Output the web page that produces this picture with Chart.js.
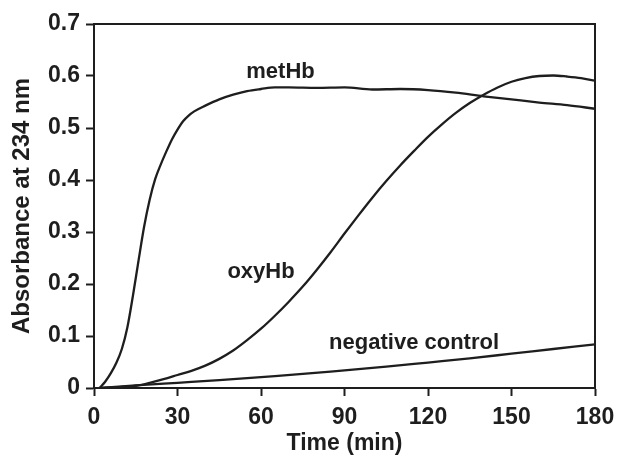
<!DOCTYPE html>
<html>
<head>
<meta charset="utf-8">
<title>Absorbance at 234 nm</title>
<script src="https://cdn.jsdelivr.net/npm/chart.js@4.4.0/dist/chart.umd.min.js"></script>
<style>
    body { margin: 0; background: #fff; }
    #wrap { width: 618px; height: 455px; }
</style>
</head>
<body>
<div id="wrap"><canvas id="absChart" width="618" height="455"></canvas></div>
<script>
// Data
const metHbTime = [2, 4, 6, 8, 10, 12, 14, 16, 18, 20, 22, 24, 26, 28, 30, 32, 34, 36, 40, 45, 50, 55, 60, 65, 70, 80, 90, 100, 110, 120, 130, 140, 150, 160, 170, 180];
const metHbValues = [0, 0.012, 0.028, 0.048, 0.075, 0.117, 0.178, 0.245, 0.31, 0.362, 0.402, 0.43, 0.455, 0.478, 0.497, 0.513, 0.524, 0.532, 0.543, 0.555, 0.564, 0.571, 0.575, 0.578, 0.578, 0.577, 0.578, 0.574, 0.575, 0.573, 0.568, 0.561, 0.555, 0.549, 0.544, 0.537];

const oxyHbTime = [2, 10, 16, 20, 25, 30, 35, 40, 45, 50, 55, 60, 65, 70, 75, 80, 85, 90, 95, 100, 105, 110, 115, 120, 125, 130, 135, 140, 145, 150, 155, 160, 165, 170, 175, 180];
const oxyHbValues = [0, 0.002, 0.005, 0.01, 0.017, 0.025, 0.033, 0.043, 0.056, 0.072, 0.092, 0.114, 0.139, 0.166, 0.195, 0.227, 0.261, 0.297, 0.332, 0.366, 0.398, 0.428, 0.456, 0.483, 0.507, 0.529, 0.548, 0.564, 0.578, 0.589, 0.596, 0.6, 0.601, 0.599, 0.596, 0.591];

const controlTime = [2, 15, 30, 45, 60, 75, 90, 105, 120, 135, 150, 165, 180];
const controlValues = [0, 0.005, 0.01, 0.015, 0.021, 0.027, 0.034, 0.041, 0.049, 0.057, 0.066, 0.075, 0.084];

// Curve labels, placed in data units
const curveLabels = ['metHb', 'oxyHb', 'negative control'];
const curveLabelTime = [67, 60, 115];
const curveLabelValue = [0.608, 0.224, 0.087];

const FONT = "'Liberation Sans', Arial, Helvetica, sans-serif";
const INK = '#1e1e1e';

function toPoints(times, values) {
    return times.map((t, i) => ({ x: t, y: values[i] }));
}

function lineSet(label, times, values) {
    return {
        label: label,
        data: toPoints(times, values),
        borderColor: INK,
        borderWidth: 2.3,
        pointRadius: 0,
        fill: false,
        cubicInterpolationMode: 'monotone'
    };
}

// Box around plot area
const framePlugin = {
    id: 'frame',
    afterDraw(chart) {
        const { ctx, chartArea } = chart;
        ctx.save();
        ctx.strokeStyle = INK;
        ctx.lineWidth = 2;
        ctx.strokeRect(chartArea.left, chartArea.top, chartArea.right - chartArea.left, chartArea.bottom - chartArea.top);
        ctx.restore();
    }
};

// Text next to each curve
const curveLabelPlugin = {
    id: 'curveLabels',
    afterDatasetsDraw(chart) {
        const { ctx, scales } = chart;
        ctx.save();
        ctx.fillStyle = INK;
        ctx.font = `bold 22px ${FONT}`;
        ctx.textAlign = 'center';
        ctx.textBaseline = 'middle';
        curveLabels.forEach((text, i) => {
            ctx.fillText(text, scales.x.getPixelForValue(curveLabelTime[i]), scales.y.getPixelForValue(curveLabelValue[i]));
        });
        ctx.restore();
    }
};

const axisStyle = {
    grid: {
        drawOnChartArea: false,
        drawTicks: true,
        tickLength: 8,
        tickWidth: 2,
        tickColor: INK
    },
    border: { display: true, color: INK, width: 2 }
};

const ctx = document.getElementById('absChart').getContext('2d');
const absChart = new Chart(ctx, {
    type: 'line',
    data: {
        datasets: [
            lineSet('metHb', metHbTime, metHbValues),
            lineSet('oxyHb', oxyHbTime, oxyHbValues),
            lineSet('negative control', controlTime, controlValues)
        ]
    },
    options: {
        responsive: false,
        animation: false,
        layout: { padding: { left: 8, right: 0, top: 24, bottom: 0 } },
        plugins: {
            legend: { display: false },
            tooltip: { enabled: false }
        },
        scales: {
            x: {
                type: 'linear',
                min: 0,
                max: 180,
                ...axisStyle,
                ticks: {
                    stepSize: 30,
                    color: INK,
                    padding: 8,
                    maxRotation: 0,
                    font: { family: FONT, size: 23, weight: 'bold' }
                },
                title: {
                    display: true,
                    text: 'Time (min)',
                    color: INK,
                    padding: { top: 0, bottom: 0 },
                    font: { family: FONT, size: 23, weight: 'bold', lineHeight: 1 }
                },
                afterFit(scale) {
                    scale.height = 67;
                    scale.paddingLeft = 0;
                    scale.paddingRight = 23;
                }
            },
            y: {
                type: 'linear',
                min: 0,
                max: 0.7,
                ...axisStyle,
                ticks: {
                    stepSize: 0.1,
                    color: INK,
                    padding: 6,
                    font: { family: FONT, size: 23, weight: 'bold' },
                    callback: value => value === 0 ? '0' : value.toFixed(1)
                },
                title: {
                    display: true,
                    text: 'Absorbance at 234 nm',
                    color: INK,
                    padding: { top: 0, bottom: 4 },
                    font: { family: FONT, size: 24, weight: 'bold' }
                },
                afterFit(scale) { scale.width = 86; }
            }
        }
    },
    plugins: [framePlugin, curveLabelPlugin]
});
</script>
</body>
</html>
